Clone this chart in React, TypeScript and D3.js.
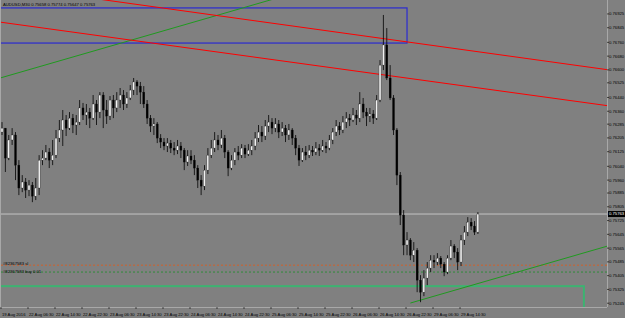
import React from "react";
import * as d3 from "d3";

// ---- Data (AUDUSD candles) ----
const firstOpen = 0.76239;
const closes = [
  0.76262,0.76088,0.76193,0.76222,0.76047,0.75914,0.75949,0.75902,0.75931,0.75867,
  0.75914,0.76076,0.76088,0.76123,0.76076,0.76105,0.76204,0.76251,0.76309,0.76262,
  0.76320,0.76280,0.76297,0.76379,0.76338,0.76355,0.76320,0.76402,0.76355,0.76454,
  0.76367,0.76332,0.76425,0.76379,0.76425,0.76454,0.76402,0.76437,0.76483,0.76530,
  0.76506,0.76471,0.76402,0.76320,0.76274,0.76286,0.76204,0.76181,0.76158,0.76175,
  0.76146,0.76134,0.76158,0.76134,0.76065,0.76100,0.76076,0.76030,0.75960,0.75925,
  0.76018,0.76105,0.76146,0.76193,0.76164,0.76204,0.76123,0.76030,0.76076,0.76123,
  0.76105,0.76146,0.76111,0.76134,0.76158,0.76204,0.76239,0.76216,0.76274,0.76297,
  0.76262,0.76286,0.76239,0.76262,0.76222,0.76251,0.76204,0.76146,0.76076,0.76123,
  0.76105,0.76134,0.76123,0.76146,0.76134,0.76158,0.76146,0.76193,0.76239,0.76274,
  0.76251,0.76297,0.76320,0.76309,0.76338,0.76320,0.76402,0.76355,0.76332,0.76344,
  0.76320,0.76425,0.76628,0.76745,0.76553,0.76437,0.76251,0.75989,0.75757,0.75583,
  0.75612,0.75524,0.75553,0.75379,0.75309,0.75391,0.75449,0.75495,0.75484,0.75507,
  0.75472,0.75426,0.75507,0.75577,0.75542,0.75484,0.75612,0.75658,0.75716,0.75693,
  0.75658,0.75763,
];
const highs = [
  0.76297,0.76262,0.76222,0.76262,0.76239,0.76076,0.75989,0.75972,0.75960,0.75949,
  0.75972,0.76105,0.76134,0.76164,0.76146,0.76193,0.76251,0.76309,0.76367,0.76338,
  0.76355,0.76344,0.76338,0.76425,0.76408,0.76402,0.76379,0.76454,0.76425,0.76471,
  0.76471,0.76425,0.76448,0.76454,0.76471,0.76495,0.76483,0.76471,0.76512,0.76553,
  0.76541,0.76530,0.76506,0.76425,0.76338,0.76320,0.76297,0.76227,0.76204,0.76204,
  0.76193,0.76181,0.76193,0.76181,0.76146,0.76134,0.76134,0.76105,0.76047,0.75989,
  0.76047,0.76146,0.76193,0.76239,0.76222,0.76251,0.76222,0.76134,0.76105,0.76146,
  0.76158,0.76169,0.76164,0.76169,0.76193,0.76239,0.76280,0.76274,0.76309,0.76338,
  0.76320,0.76320,0.76309,0.76297,0.76280,0.76286,0.76262,0.76222,0.76164,0.76146,
  0.76158,0.76164,0.76158,0.76181,0.76169,0.76193,0.76181,0.76222,0.76262,0.76309,
  0.76297,0.76332,0.76355,0.76344,0.76379,0.76367,0.76471,0.76437,0.76379,0.76379,
  0.76367,0.76454,0.76657,0.76919,0.76843,0.76628,0.76454,0.76262,0.76007,0.75786,
  0.75658,0.75623,0.75600,0.75565,0.75408,0.75437,0.75484,0.75524,0.75524,0.75536,
  0.75519,0.75484,0.75524,0.75612,0.75588,0.75565,0.75641,0.75693,0.75745,0.75739,
  0.75722,0.75774,
];
const lows = [
  0.76222,0.76007,0.76076,0.76164,0.75960,0.75873,0.75890,0.75856,0.75867,0.75832,
  0.75844,0.75873,0.76047,0.76076,0.76030,0.76047,0.76088,0.76181,0.76158,0.76216,
  0.76251,0.76233,0.76222,0.76280,0.76309,0.76280,0.76262,0.76309,0.76280,0.76320,
  0.76262,0.76286,0.76309,0.76320,0.76355,0.76379,0.76367,0.76379,0.76425,0.76454,
  0.76454,0.76402,0.76379,0.76286,0.76239,0.76222,0.76175,0.76146,0.76134,0.76123,
  0.76117,0.76105,0.76111,0.76088,0.76018,0.76042,0.76053,0.75989,0.75914,0.75873,
  0.75902,0.75995,0.76088,0.76123,0.76134,0.76146,0.76088,0.75983,0.76018,0.76047,
  0.76076,0.76088,0.76088,0.76100,0.76105,0.76134,0.76181,0.76181,0.76193,0.76239,
  0.76227,0.76239,0.76204,0.76216,0.76181,0.76193,0.76164,0.76105,0.76042,0.76065,
  0.76076,0.76088,0.76100,0.76105,0.76100,0.76123,0.76117,0.76134,0.76169,0.76216,
  0.76222,0.76233,0.76262,0.76274,0.76297,0.76280,0.76297,0.76320,0.76274,0.76297,
  0.76286,0.76309,0.76413,0.76599,0.76541,0.76425,0.76222,0.75931,0.75699,0.75524,
  0.75524,0.75495,0.75484,0.75309,0.75251,0.75286,0.75350,0.75426,0.75449,0.75466,
  0.75449,0.75402,0.75414,0.75495,0.75507,0.75437,0.75461,0.75583,0.75635,0.75670,
  0.75641,0.75647,
];

const priceTicks = [
  "0.76925","0.76845","0.76760","0.76680","0.76600","0.76525","0.76440","0.76360",
  "0.76285","0.76205","0.76125","0.76040","0.75960","0.75885","0.75805","0.75725",
  "0.75645","0.75565","0.75485","0.75405","0.75325","0.75245",
];
const timeTicks = [
  "19 Aug 2016","22 Aug 06:30","22 Aug 14:30","22 Aug 22:30","23 Aug 06:30","23 Aug 14:30",
  "23 Aug 22:30","24 Aug 06:30","24 Aug 14:30","24 Aug 22:30","25 Aug 06:30","25 Aug 14:30",
  "25 Aug 22:30","26 Aug 06:30","26 Aug 14:30","26 Aug 22:30","29 Aug 06:30","29 Aug 14:30",
];
const barsPerTimeTick = 8;

// objects: trend lines as [barIndex, price] anchors
const redLine1 = [[0, 0.77089], [178, 0.76605]];
const redLine2 = [[0, 0.76876], [178, 0.76396]];
const greenLine1 = [[0, 0.76556], [80, 0.77009]];
const greenLine2 = [[121, 0.75246], [178, 0.75569]];
const blueRect = { i0: -6, i1: 120, p0: 0.76960, p1: 0.76756 };
const greenRect = { i0: -6, i1: 172.4, p0: 0.75344, p1: 0.7500 };
const slLevel = 0.75466;
const buyLevel = 0.75426;
const orderId = "#82367583";
const symbol = "AUDUSD,M30";

const W = 625, H = 318;
const plotL = 1, plotR = 607, plotT = 0, plotB = 307;
const BG = "#808080";
const FONT = "'Liberation Sans', Arial, sans-serif";

export default function App() {
  const n = closes.length;
  const x = d3.scaleLinear().domain([0, n - 1]).range([2, 477.9]);
  const y = d3.scaleLinear().domain([0.75223, 0.77006]).range([plotB, 0]);

  const opens = closes.map((c, i) => (i === 0 ? firstOpen : closes[i - 1]));
  const last = n - 1;
  const fmt = (v: number) => v.toFixed(5);

  const lineThrough = (a: number[][], fromI: number, toI: number) => {
    const [[i0, p0], [i1, p1]] = a;
    const s = (p1 - p0) / (i1 - i0);
    return {
      x1: x(fromI), y1: y(p0 + s * (fromI - i0)),
      x2: x(toI), y2: y(p0 + s * (toI - i0)),
    };
  };
  const rEnd = 182;
  const r1 = lineThrough(redLine1, -2, rEnd);
  const r2 = lineThrough(redLine2, -2, rEnd);
  const g1 = lineThrough(greenLine1, -2, rEnd);
  const g2 = lineThrough(greenLine2, greenLine2[0][0], rEnd);

  const lastClose = closes[last];

  return (
    <svg width={W} height={H} style={{ position: "fixed", left: 0, top: 0, background: BG }}
      fontFamily={FONT}>
      <defs>
        <clipPath id="plot">
          <rect x={plotL} y={plotT} width={plotR - plotL} height={plotB - plotT} />
        </clipPath>
      </defs>
      <rect x={0} y={0} width={W} height={H} fill={BG} />

      <g clipPath="url(#plot)">
        {/* green rectangle */}
        <rect x={x(greenRect.i0)} y={y(greenRect.p0)} width={x(greenRect.i1) - x(greenRect.i0)}
          height={y(greenRect.p1) - y(greenRect.p0)} fill="none" stroke="#3cb371" strokeWidth={2} />
        {/* blue rectangle */}
        <rect x={x(blueRect.i0)} y={y(blueRect.p0)} width={x(blueRect.i1) - x(blueRect.i0)}
          height={y(blueRect.p1) - y(blueRect.p0)} fill="none" stroke="#2a2ad0" strokeWidth={1.2} />
        {/* order levels */}
        <line x1={plotL} x2={plotR} y1={y(slLevel)} y2={y(slLevel)} stroke="#d0602a" strokeDasharray="2,2" strokeWidth={1} />
        <line x1={plotL} x2={plotR} y1={y(buyLevel)} y2={y(buyLevel)} stroke="#2f8a3a" strokeDasharray="2,2" strokeWidth={1} />
        <text x={3} y={y(slLevel)} fontSize={4.2} fill="#000">{orderId} sl</text>
        <text x={3} y={y(buyLevel) + 1} fontSize={4.2} fill="#000">{orderId} buy 0.01</text>
        {/* current price line */}
        <line x1={plotL} x2={plotR} y1={y(lastClose)} y2={y(lastClose)} stroke="#c4c4c4" strokeWidth={1} />
        {/* trend lines */}
        <line {...g1} stroke="#1f9a1f" strokeWidth={1} />
        <line {...g2} stroke="#1f9a1f" strokeWidth={1} />
        <line {...r1} stroke="#ff0000" strokeWidth={1} />
        <line {...r2} stroke="#ff0000" strokeWidth={1} />
        {/* candles */}
        {closes.map((c, i) => {
          const o = opens[i];
          const hi = Math.max(highs[i], o, c);
          const lo = Math.min(lows[i], o, c);
          const cx = x(i);
          const top = y(Math.max(o, c));
          const bot = y(Math.min(o, c));
          const bull = c >= o;
          return (
            <g key={i}>
              <line x1={cx} x2={cx} y1={y(hi)} y2={y(lo)} stroke="#111" strokeWidth={0.9} />
              <rect x={cx - 1} y={top} width={2} height={Math.max(0.8, bot - top)}
                fill={bull ? "#f2f2f2" : "#000"} stroke="#111" strokeWidth={0.3} />
            </g>
          );
        })}
      </g>

      {/* frame */}
      <line x1={plotR + 0.5} x2={plotR + 0.5} y1={0} y2={plotB} stroke="#a8a8a8" strokeWidth={1} />
      <line x1={0} x2={plotR} y1={plotB + 0.5} y2={plotB + 0.5} stroke="#a8a8a8" strokeWidth={1} />
      <line x1={plotL - 0.5} x2={plotL - 0.5} y1={0} y2={plotB} stroke="#a8a8a8" strokeWidth={1} />

      {/* title */}
      <text x={3} y={6} fontSize={4.2} fill="#000">
        {`${symbol}  ${fmt(opens[last])} ${fmt(highs[last])} ${fmt(lows[last])} ${fmt(lastClose)}`}
      </text>

      {/* price axis */}
      {priceTicks.map((t) => (
        <g key={t}>
          <line x1={plotR} x2={plotR + 2} y1={y(+t)} y2={y(+t)} stroke="#000" strokeWidth={0.6} />
          <text x={609} y={y(+t)} dy="0.35em" fontSize={4.2} fill="#000">{t}</text>
        </g>
      ))}
      <rect x={plotR + 1} y={y(lastClose) - 3} width={W - plotR - 1} height={6} fill="#000" />
      <text x={609} y={y(lastClose)} dy="0.35em" fontSize={4.2} fill="#fff">{fmt(lastClose)}</text>

      {/* time axis */}
      {timeTicks.map((t, k) => {
        const tx = x(k * barsPerTimeTick) - 1;
        return (
          <g key={t}>
            <line x1={tx} x2={tx} y1={plotB} y2={plotB + 2} stroke="#000" strokeWidth={0.6} />
            <text x={tx + 1} y={315.5} fontSize={4.2} fill="#000">{t}</text>
          </g>
        );
      })}
    </svg>
  );
}
